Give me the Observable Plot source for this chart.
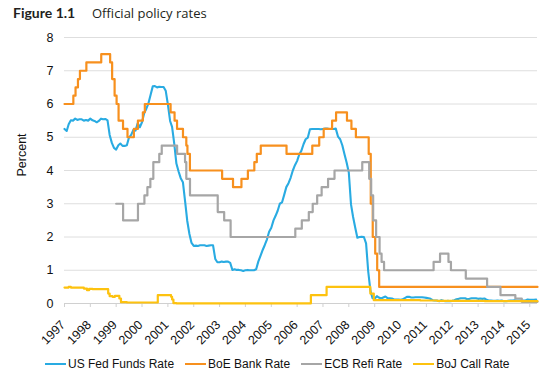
<!DOCTYPE html>
<html><head><meta charset="utf-8">
<script src="https://cdn.jsdelivr.net/npm/d3@7"></script>
<script src="https://cdn.jsdelivr.net/npm/@observablehq/plot@0.6"></script>
<style>
body{margin:0;background:#fff;width:555px;height:376px;overflow:hidden;font-family:"Liberation Sans",Arial,sans-serif;color:#111;}
#title{position:relative;height:28px;color:#231f20;}
#title span{position:absolute;top:5px;line-height:16px;white-space:nowrap;}
#title .fig{left:13px;font-weight:bold;font-family:Lato,sans-serif;font-size:14px;}
#title .name{left:92px;font-family:"Open Sans",sans-serif;font-size:13px;}
#chart{height:318px;}
#legend{height:24px;padding-top:6px;display:flex;align-items:center;padding-left:45px;font-size:12px;color:#111;}
.item{display:flex;align-items:center;margin-right:11px;white-space:nowrap;}
.sw{display:inline-block;width:21px;height:2.5px;margin-right:2px;}
</style></head>
<body>
<div id="title"><span class="fig">Figure 1.1</span><span class="name">Official policy rates</span></div>
<div id="chart"></div>
<div id="legend"></div>
<script>
// ---- data ----
const seriesNames = ["US Fed Funds Rate", "BoE Bank Rate", "ECB Refi Rate", "BoJ Call Rate"];
const seriesColors = ["#29abe2", "#f7901e", "#a6a6a6", "#fdc20f"];
const yTicks = [0, 1, 2, 3, 4, 5, 6, 7, 8];
const yearTicks = [1997,1998,1999,2000,2001,2002,2003,2004,2005,2006,2007,2008,2009,2010,2011,2012,2013,2014,2015];

// US Fed Funds (effective, monthly from Jan 1997)
const fedFunds = [
 5.25,5.19,5.39,5.51,5.50,5.56,5.52,5.54,5.54,5.50,5.52,5.50,
 5.56,5.51,5.49,5.45,5.49,5.56,5.54,5.55,5.51,5.07,4.83,4.68,
 4.63,4.76,4.81,4.74,4.74,4.76,4.99,5.07,5.22,5.20,5.42,5.30,
 5.45,5.73,5.85,6.02,6.27,6.53,6.54,6.50,6.52,6.51,6.51,6.40,
 5.98,5.49,5.31,4.80,4.21,3.97,3.77,3.65,3.07,2.49,2.09,1.82,
 1.73,1.74,1.73,1.75,1.75,1.75,1.73,1.74,1.75,1.75,1.34,1.24,
 1.24,1.26,1.25,1.26,1.26,1.22,1.01,1.03,1.01,1.01,1.00,0.98,
 1.00,1.01,1.00,1.00,1.00,1.03,1.26,1.43,1.61,1.76,1.93,2.16,
 2.28,2.50,2.63,2.79,3.00,3.04,3.26,3.50,3.62,3.78,4.00,4.16,
 4.29,4.49,4.59,4.79,4.94,4.99,5.24,5.25,5.25,5.25,5.25,5.24,
 5.25,5.26,5.26,5.25,5.25,5.25,5.26,5.02,4.94,4.76,4.49,4.24,
 3.94,2.98,2.61,2.28,1.98,2.00,2.01,2.00,1.81,0.97,0.39,0.16,
 0.15,0.22,0.18,0.15,0.18,0.21,0.16,0.16,0.15,0.12,0.12,0.12,
 0.11,0.13,0.16,0.20,0.20,0.18,0.18,0.19,0.19,0.19,0.19,0.18,
 0.17,0.16,0.14,0.10,0.09,0.09,0.07,0.10,0.08,0.07,0.08,0.07,
 0.08,0.10,0.13,0.14,0.16,0.16,0.16,0.13,0.14,0.16,0.16,0.16,
 0.14,0.15,0.14,0.15,0.11,0.09,0.09,0.08,0.08,0.09,0.08,0.09,
 0.07,0.07,0.08,0.09,0.09,0.10,0.09,0.09,0.09,0.09,0.09,0.12,
 0.11,0.11,0.11,0.12
];

// BoE Bank Rate change dates and levels
const boeDates = ["1997-01-01","1997-05-06","1997-06-06","1997-07-10","1997-08-07","1997-11-06","1998-06-04","1998-10-08","1998-11-05","1998-12-10","1999-01-07","1999-02-04","1999-04-08","1999-06-10","1999-09-08","1999-11-04","2000-01-13","2000-02-10","2001-02-08","2001-04-05","2001-05-10","2001-08-02","2001-09-18","2001-10-04","2001-11-08","2003-02-06","2003-07-10","2003-11-06","2004-02-05","2004-05-06","2004-06-10","2004-08-05","2005-08-04","2006-08-03","2006-11-09","2007-01-11","2007-05-10","2007-07-05","2007-12-06","2008-02-07","2008-04-10","2008-10-08","2008-11-06","2008-12-04","2009-01-08","2009-02-05","2009-03-05","2015-04-20"];
const boeRates = [6.0,6.25,6.5,6.75,7.0,7.25,7.5,7.25,6.75,6.25,6.0,5.5,5.25,5.0,5.25,5.5,5.75,6.0,5.75,5.5,5.25,5.0,4.75,4.5,4.0,3.75,3.5,3.75,4.0,4.25,4.5,4.75,4.5,4.75,5.0,5.25,5.5,5.75,5.5,5.25,5.0,4.5,3.0,2.0,1.5,1.0,0.5,0.5];

// ECB main refinancing rate
const ecbDates = ["1999-01-01","1999-04-09","1999-11-05","2000-02-04","2000-03-17","2000-04-28","2000-06-09","2000-09-01","2000-10-06","2001-05-11","2001-08-31","2001-09-18","2001-11-09","2002-12-06","2003-03-07","2003-06-06","2005-12-06","2006-03-08","2006-06-15","2006-08-09","2006-10-11","2006-12-13","2007-03-14","2007-06-13","2008-07-09","2008-10-15","2008-11-12","2008-12-10","2009-01-21","2009-03-11","2009-04-08","2009-05-13","2011-04-13","2011-07-13","2011-11-09","2011-12-14","2012-07-11","2013-05-08","2013-11-13","2014-06-11","2014-09-10","2015-04-20"];
const ecbRates = [3.0,2.5,3.0,3.25,3.5,3.75,4.25,4.5,4.75,4.5,4.25,3.75,3.25,2.75,2.5,2.0,2.25,2.5,2.75,3.0,3.25,3.5,3.75,4.0,4.25,3.75,3.25,2.5,2.0,1.5,1.25,1.0,1.25,1.5,1.25,1.0,0.75,0.5,0.25,0.15,0.05,0.05];

// BoJ call rate
const bojDates = ["1997-01-01","1997-03-01","1997-04-01","1997-10-01","1997-11-15","1997-12-15","1998-02-01","1998-09-10","1998-10-01","1998-11-10","1998-12-15","1999-02-15","1999-03-10","1999-06-01","2000-08-11","2001-02-15","2001-03-01","2001-03-20","2001-05-01","2006-07-14","2007-02-21","2008-10-31","2008-12-19","2010-10-05","2011-06-01","2013-04-04","2015-04-20"];
const bojRates = [0.48,0.50,0.48,0.45,0.40,0.44,0.43,0.30,0.22,0.20,0.23,0.15,0.04,0.03,0.25,0.20,0.12,0.01,0.003,0.25,0.50,0.30,0.10,0.09,0.08,0.07,0.07];

// ---- build ----
const iso = d3.utcParse("%Y-%m-%d");
const fedData = fedFunds.map((v, i) => ({date: new Date(Date.UTC(1997, i, 1)), value: v}));
const boeData = boeDates.map((d, i) => ({date: iso(d), value: boeRates[i]}));
const ecbData = ecbDates.map((d, i) => ({date: iso(d), value: ecbRates[i]}));
const bojData = bojDates.map((d, i) => ({date: iso(d), value: bojRates[i]}));
const yearDates = yearTicks.map(y => new Date(Date.UTC(y, 0, 1)));

const chart = Plot.plot({
  width: 555, height: 318,
  marginLeft: 64, marginRight: 18, marginTop: 9, marginBottom: 43,
  style: {fontFamily: "'Liberation Sans', Arial, sans-serif", fontSize: "12px", color: "#111", background: "transparent"},
  x: {type: "utc", domain: [new Date(Date.UTC(1997, 0, 1)), new Date(Date.UTC(2015, 3, 20))]},
  y: {domain: [0, 8]},
  marks: [
    Plot.gridY(yTicks.filter(d => d > 0), {stroke: "#dedede", strokeOpacity: 1, strokeWidth: 1}),
    Plot.axisY(yTicks, {tickSize: 0, tickPadding: 11, label: null, fontSize: 12.5, fill: "#111"}),
    Plot.ruleY([0], {stroke: "#d0d0d0", strokeWidth: 1.2}),
    Plot.axisX(yearDates, {tickSize: 4, stroke: "#d0d0d0", tickFormat: () => "", label: null}),
    Plot.text(yearDates, {x: d => d, frameAnchor: "bottom", text: d => String(d.getUTCFullYear()), rotate: -45, textAnchor: "end", lineAnchor: "bottom", dx: 1.5, dy: 22, fontSize: 12.5, fill: "#111"}),
    Plot.text(["Percent"], {frameAnchor: "left", text: d => d, rotate: -90, dx: -43, dy: 6, fontSize: 12.5, fill: "#111"}),
    Plot.line(fedData, {x: "date", y: "value", stroke: seriesColors[0], strokeWidth: 2.1}),
    Plot.line(boeData, {x: "date", y: "value", curve: "step-after", stroke: seriesColors[1], strokeWidth: 2.2}),
    Plot.line(ecbData, {x: "date", y: "value", curve: "step-after", stroke: seriesColors[2], strokeWidth: 2.2}),
    Plot.line(bojData, {x: "date", y: "value", curve: "step-after", stroke: seriesColors[3], strokeWidth: 2.2})
  ]
});
document.getElementById("chart").appendChild(chart);

const legend = document.getElementById("legend");
seriesNames.forEach((name, i) => {
  const item = document.createElement("div");
  item.className = "item";
  const sw = document.createElement("span");
  sw.className = "sw";
  sw.style.background = seriesColors[i];
  item.appendChild(sw);
  item.appendChild(document.createTextNode(name));
  legend.appendChild(item);
});
</script>
</body></html>
